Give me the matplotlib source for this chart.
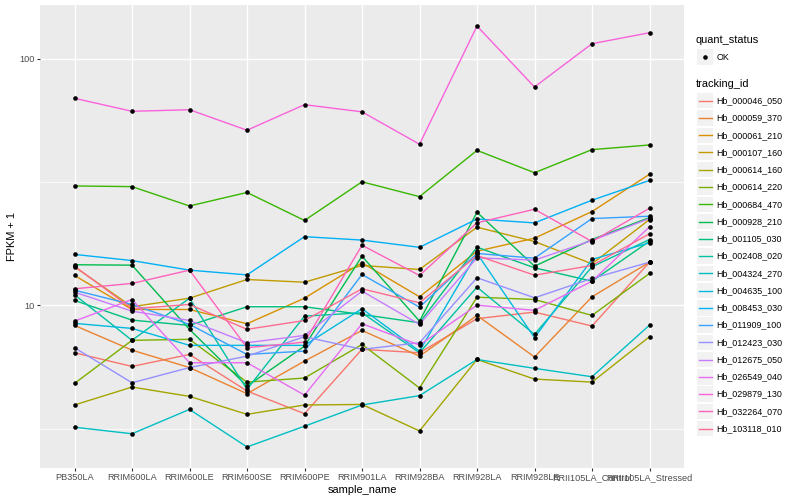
import numpy as np
import matplotlib.pyplot as plt
from matplotlib.patches import Rectangle
from matplotlib.ticker import FixedLocator, NullFormatter

plt.rcParams['font.family'] = ['Liberation Sans', 'DejaVu Sans']

samples = ['PB350LA', 'RRIM600LA', 'RRIM600LE', 'RRIM600SE', 'RRIM600PE', 'RRIM901LA',
           'RRIM928BA', 'RRIM928LA', 'RRIM928LE', 'RRII105LA_Control', 'RRII105LA_Stressed']

tracking_ids = ['Hb_000046_050', 'Hb_000059_370', 'Hb_000061_210', 'Hb_000107_160',
                'Hb_000614_160', 'Hb_000614_220', 'Hb_000684_470', 'Hb_000928_210',
                'Hb_001105_030', 'Hb_002408_020', 'Hb_004324_270', 'Hb_004635_100',
                'Hb_008453_030', 'Hb_011909_100', 'Hb_012423_030', 'Hb_012675_050',
                'Hb_026549_040', 'Hb_029879_130', 'Hb_032264_070', 'Hb_103118_010']

# ggplot hue palette, 20 levels
colors = ['#F8766D', '#EA8331', '#D89000', '#C09B00', '#A3A500', '#7CAE00', '#39B600',
          '#00BB4E', '#00BF7D', '#00C1A3', '#00BFC4', '#00BAE0', '#00B0F6', '#35A2FF',
          '#9590FF', '#C77CFF', '#E76BF3', '#FA62DB', '#FF62BC', '#FF6C91']

# FPKM + 1, one list per gene, in sample order
hb_000046_050 = [6.43, 5.66, 6.33, 4.50, 3.64, 6.64, 6.43, 8.84, 9.40, 8.25, 14.97]
hb_000059_370 = [8.30, 6.59, 5.60, 4.39, 5.95, 7.92, 6.23, 9.11, 6.18, 10.84, 14.97]
hb_000061_210 = [13.23, 9.63, 9.63, 8.43, 10.70, 14.89, 10.84, 16.59, 18.73, 24.02, 34.01]
hb_000107_160 = [14.34, 9.88, 10.70, 12.74, 12.42, 14.52, 13.99, 20.75, 18.16, 14.75, 22.29]
hb_000614_160 = [3.95, 4.67, 4.28, 3.62, 3.95, 3.97, 3.10, 6.04, 5.03, 4.89, 7.47]
hb_000614_220 = [4.83, 7.22, 7.29, 4.89, 5.08, 6.95, 4.63, 10.80, 10.57, 9.11, 13.48]
hb_000684_470 = [30.5, 30.3, 25.3, 28.7, 22.1, 31.7, 27.6, 42.5, 34.5, 42.8, 44.7]
hb_000928_210 = [14.62, 14.56, 8.00, 4.71, 6.84, 15.83, 8.64, 23.86, 14.42, 18.50, 22.71]
hb_001105_030 = [10.48, 8.72, 8.30, 9.88, 9.88, 9.19, 8.51, 17.22, 14.21, 12.54, 18.21]
hb_002408_020 = [11.05, 7.22, 10.70, 4.57, 9.05, 9.34, 6.43, 11.86, 7.63, 14.34, 18.50]
hb_004324_270 = [3.21, 3.02, 3.79, 2.67, 3.24, 3.95, 4.31, 6.04, 5.56, 5.14, 8.32]
hb_004635_100 = [8.46, 8.07, 6.89, 6.89, 6.89, 9.70, 6.53, 16.24, 7.40, 15.36, 17.94]
hb_008453_030 = [16.1, 15.2, 13.9, 13.3, 19.0, 18.4, 17.2, 22.4, 21.6, 26.7, 32.1]
hb_011909_100 = [11.53, 10.09, 8.38, 6.33, 6.53, 13.35, 9.84, 16.24, 15.54, 22.50, 22.99]
hb_012423_030 = [6.74, 4.86, 5.60, 6.23, 7.47, 6.64, 7.06, 12.95, 10.74, 12.86, 14.97]
hb_012675_050 = [11.32, 9.48, 8.69, 7.06, 7.56, 11.43, 8.38, 15.60, 15.26, 18.33, 22.50]
hb_026549_040 = [8.64, 10.57, 5.86, 5.86, 4.33, 8.43, 6.91, 10.03, 9.55, 12.54, 20.83]
hb_029879_130 = [69.1, 61.2, 62.1, 51.3, 65.1, 60.9, 45.0, 135.6, 76.8, 115.0, 127.4]
hb_032264_070 = [11.68, 12.28, 13.90, 6.74, 7.10, 17.54, 13.23, 21.62, 24.54, 18.16, 24.77]
hb_103118_010 = [14.42, 9.70, 10.09, 8.00, 8.69, 11.68, 10.25, 15.93, 13.26, 14.52, 19.51]

series = [hb_000046_050, hb_000059_370, hb_000061_210, hb_000107_160, hb_000614_160,
          hb_000614_220, hb_000684_470, hb_000928_210, hb_001105_030, hb_002408_020,
          hb_004324_270, hb_004635_100, hb_008453_030, hb_011909_100, hb_012423_030,
          hb_012675_050, hb_026549_040, hb_029879_130, hb_032264_070, hb_103118_010]

fig = plt.figure(figsize=(8, 5), dpi=100)
ax = fig.add_axes([40 / 800, 32 / 500, 644 / 800, 463 / 500])
ax.set_facecolor('#EBEBEB')

x = np.arange(len(samples))
for vals, c in zip(series, colors):
    ax.plot(x, vals, color=c, lw=1.0, zorder=2)
for vals in series:
    ax.scatter(x, vals, s=11, color='black', linewidths=0, zorder=3)

ax.set_yscale('log')
allv = np.log10(np.concatenate([np.array(v) for v in series]))
lo, hi = allv.min(), allv.max()
pad = 0.05 * (hi - lo)
ax.set_ylim(10 ** (lo - pad), 10 ** (hi + pad))
ax.set_xlim(-0.6, len(samples) - 0.4)

ax.set_yticks([10, 100])
ax.set_yticklabels(['10', '100'])
ax.yaxis.set_minor_locator(FixedLocator([10 ** 0.5, 10 ** 1.5]))
ax.yaxis.set_minor_formatter(NullFormatter())
ax.set_xticks(x)
ax.set_xticklabels(samples)

ax.set_axisbelow(True)
ax.grid(which='major', color='white', lw=1.0)
ax.grid(which='minor', axis='y', color='white', lw=0.5)
for s in ax.spines.values():
    s.set_visible(False)
ax.tick_params(which='major', length=2, width=0.8, color='#333333',
               labelsize=6.6, labelcolor='#4D4D4D', pad=1.6)
ax.tick_params(which='minor', length=0)

ax.set_xlabel('sample_name', fontsize=7.9, labelpad=2)
ax.set_ylabel('FPKM + 1', fontsize=7.9, labelpad=2)

# legends
lg = fig.add_axes([0, 0, 1, 1])
lg.set_xlim(0, 800)
lg.set_ylim(500, 0)
lg.axis('off')

lg.text(696, 40, 'quant_status', fontsize=7.9, va='center', ha='left')
lg.add_patch(Rectangle((697.3, 49.3), 15.4, 15.4, facecolor='#F2F2F2', edgecolor='none'))
lg.scatter([705], [57], s=11, color='black', linewidths=0)
lg.text(716.7, 57, 'OK', fontsize=6.4, va='center', ha='left')

lg.text(696, 84, 'tracking_id', fontsize=7.9, va='center', ha='left')
for i, (tid, c) in enumerate(zip(tracking_ids, colors)):
    yc = 100.7 + i * 17.26
    lg.add_patch(Rectangle((697.3, yc - 7.7), 15.4, 15.4, facecolor='#F2F2F2', edgecolor='none'))
    lg.plot([698.5, 711.5], [yc, yc], color=c, lw=1.0)
    lg.text(716.7, yc, tid, fontsize=6.4, va='center', ha='left')

fig.savefig('out.png', dpi=100)
